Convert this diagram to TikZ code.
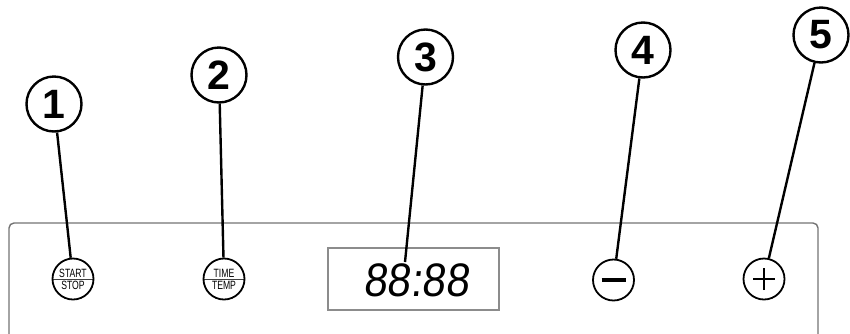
\documentclass[tikz,border=0pt]{standalone}
\usepackage{fontspec}
\setmainfont{Liberation Sans}
\newfontfamily\btnfont{Liberation Sans}[FakeStretch=0.72]
\newfontfamily\dispfont{Liberation Sans}[FakeStretch=0.9,FakeSlant=0.12]
\usetikzlibrary{positioning}

\begin{document}
\begin{tikzpicture}[
        x=1pt, y=-1pt,
        callout/.style={
            circle,
            draw=black,
            fill=white,
            line width=2.4pt,
            minimum size=55pt,
            inner sep=0pt,
            font=\bfseries\fontsize{41}{41}\selectfont
        },
        ctrlbtn/.style={
            circle,
            draw=black,
            line width=1.8pt,
            minimum size=41pt,
            inner sep=0pt
        },
        splitbtn/.style={
            ctrlbtn,
            path picture={
                \draw[black!75, line width=1pt]
                    (path picture bounding box.west) -- (path picture bounding box.east);
            }
        },
        btntext/.style={
            inner sep=0pt,
            font=\btnfont\fontsize{12}{12}\selectfont
        },
        leader/.style={
            line width=2.4pt,
            black
        }
    ]

    \useasboundingbox (0,0) rectangle (850,333);

    % Panel
    \draw[black!55, line width=1.4pt, rounded corners=5pt]
        (9,223) rectangle (818,340);

    % Display
    \node[draw=black!45, line width=1.2pt, rectangle,
          minimum width=171pt, minimum height=62pt, inner sep=0pt]
        (disp) at (413.5,279) {};
    \node[inner sep=0pt, font=\dispfont\fontsize{47}{47}\selectfont]
        (digits) at (416,280) {88:88};
    \coordinate (d3) at (405,262);

    % Buttons
    \node[splitbtn] (b1) at (73,279) {};
    \node[btntext, above=1.5pt of b1.center] (t1a) {START};
    \node[btntext, below=2pt of b1.center] (t1b) {STOP};

    \node[splitbtn] (b2) at (224,279) {};
    \node[btntext, above=1.5pt of b2.center] (t2a) {TIME};
    \node[btntext, below=2pt of b2.center] (t2b) {TEMP};

    \node[ctrlbtn, path picture={
            \draw[line width=3.2pt]
                ([xshift=-12pt]path picture bounding box.center) --
                ([xshift=12pt]path picture bounding box.center);
        }] (b4) at (613.5,280) {};

    \node[ctrlbtn, path picture={
            \draw[line width=2.2pt]
                ([xshift=-11pt]path picture bounding box.center) --
                ([xshift=11pt]path picture bounding box.center);
            \draw[line width=2.2pt]
                ([yshift=-11pt]path picture bounding box.center) --
                ([yshift=11pt]path picture bounding box.center);
        }] (b5) at (764,279) {};

    % Numbered callouts
    \node[callout] (c1) at (54,104) {1};
    \node[callout] (c2) at (219,75) {2};
    \node[callout] (c3) at (425.5,57) {3};
    \node[callout] (c4) at (643,50) {4};
    \node[callout] (c5) at (821,35) {5};

    % Leader lines
    \draw[leader] (c1) -- (b1);
    \draw[leader] (c2) -- (b2);
    \draw[leader] (c3) -- (d3);
    \draw[leader] (c4) -- (b4);
    \draw[leader] (c5) -- (b5);

\end{tikzpicture}
\end{document}
